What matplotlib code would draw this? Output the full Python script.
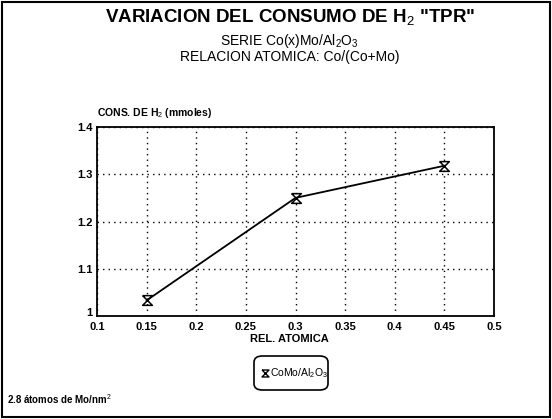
import numpy as np
import matplotlib
matplotlib.use("Agg")
import matplotlib.pyplot as plt
import matplotlib.transforms as mtransforms
from matplotlib.path import Path
from matplotlib.patches import FancyBboxPatch, Rectangle

plt.rcParams["font.family"] = ["Liberation Sans", "DejaVu Sans"]
plt.rcParams["mathtext.fontset"] = "custom"
plt.rcParams["mathtext.rm"] = "Liberation Sans"

rel_atomica = [0.15, 0.30, 0.45]
consumo_h2 = [1.033, 1.250, 1.318]
x_ticks = [0.1, 0.15, 0.2, 0.25, 0.3, 0.35, 0.4, 0.45, 0.5]
x_ticklabels = ["0.1", "0.15", "0.2", "0.25", "0.3", "0.35", "0.4", "0.45", "0.5"]
y_ticks = [1.0, 1.1, 1.2, 1.3, 1.4]
y_ticklabels = ["1", "1.1", "1.2", "1.3", "1.4"]

# hourglass marker
hourglass = Path([(-1, 1), (1, 1), (-1, -1), (1, -1), (-1, 1)],
                 [Path.MOVETO, Path.LINETO, Path.LINETO, Path.LINETO, Path.LINETO])

fig = plt.figure(figsize=(5.52, 4.19), dpi=100)
fig.patches.append(Rectangle((0.004, 0.004), 0.992, 0.991, transform=fig.transFigure,
                             fill=False, ec="black", lw=1.5))

ax = fig.add_axes([97/552, 1 - 316/419, (494-97)/552, (316-127)/419])
ax.plot(rel_atomica, consumo_h2, color="black", lw=1.3, marker=hourglass,
        ms=7, mfc="none", mec="black", mew=1.1)
ax.set_xlim(0.1, 0.5)
ax.set_ylim(1.0, 1.4)
ax.set_xticks(x_ticks)
ax.set_xticklabels(x_ticklabels, fontsize=8, fontweight="bold")
ax.set_yticks(y_ticks)
ax.set_yticklabels(y_ticklabels, fontsize=8, fontweight="bold")
ax.tick_params(length=0, pad=3)
ax.tick_params(axis="x", pad=4)
# lift the "1" label a bit above the corner, as in the original
lbl = ax.get_yticklabels()[0]
lbl.set_transform(lbl.get_transform() + mtransforms.ScaledTranslation(0, 4/100, fig.dpi_scale_trans))
ax.grid(True, ls=(0, (1, 3)), color="black", lw=1.0)
for s in ax.spines.values():
    s.set_linewidth(1.3)

fig.text(0.525, 1 - 18/419, 'VARIACION DEL CONSUMO DE H$_2$ "TPR"', ha="center", va="center",
         fontsize=13.5, fontweight="bold")
fig.text(0.525, 1 - 41/419, "SERIE Co(x)Mo/Al$_2$O$_3$", ha="center", va="center", fontsize=10)
fig.text(0.525, 1 - 57/419, "RELACION ATOMICA: Co/(Co+Mo)", ha="center", va="center", fontsize=10)
fig.text(97/552, 1 - 113/419, "CONS. DE H$_2$ (mmoles)", ha="left", va="center",
         fontsize=7.5, fontweight="bold")
fig.text(0.525, 1 - 339/419, "REL. ATOMICA", ha="center", va="center", fontsize=8, fontweight="bold")
fig.text(7/552, 1 - 399/419, "2.8 átomos de Mo/nm$^2$", ha="left", va="center", fontsize=7,
         fontweight="bold")

# legend box
fig.patches.append(FancyBboxPatch((254/552, 1 - 390/419), 74/552, 34/419,
                                  boxstyle="round,pad=0,rounding_size=0.015",
                                  transform=fig.transFigure, fill=False, ec="black", lw=1.2))
fig.lines.append(plt.Line2D([265/552], [1 - 373/419], transform=fig.transFigure,
                            marker=hourglass, ms=5, mfc="none", mec="black", mew=1.0, ls="none"))
fig.text(270/552, 1 - 373/419, "CoMo/Al$_2$O$_3$", ha="left", va="center", fontsize=7.5)

fig.savefig("out.png", dpi=100)
